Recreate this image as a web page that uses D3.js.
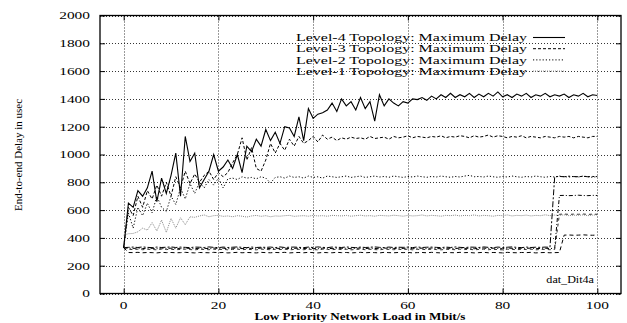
<!DOCTYPE html>
<html>
<head>
<meta charset="utf-8">
<script src="https://cdn.jsdelivr.net/npm/d3@7"></script>
<style>
  body { margin: 0; background: #fff; }
  svg { display: block; }
  text { font-family: "Liberation Serif", "Times New Roman", serif; fill: #000; }
</style>
</head>
<body>
<svg id="chart" width="627" height="323"></svg>
<script>
// Offered low-priority load (Mbit/s)
const loads = d3.range(0, 101, 1);

// Maximum end-to-end delay per topology depth (usec)
const level4Max = [330,650,620,740,700,760,880,660,830,720,850,1010,700,1130,950,1010,760,820,880,1000,
  880,910,960,900,1000,870,1060,1020,1110,1060,1180,1100,1160,1080,1200,1190,1130,1270,1100,1330,
  1260,1290,1300,1320,1370,1310,1400,1350,1380,1320,1410,1330,1380,1240,1430,1350,1400,1370,1350,1380,
  1370,1400,1395,1410,1390,1420,1400,1430,1410,1440,1410,1430,1415,1440,1410,1435,1415,1440,1420,1450,
  1415,1430,1410,1435,1420,1440,1410,1430,1420,1440,1415,1430,1420,1435,1410,1430,1420,1440,1415,1430,1425];
const level3Max = [330,620,560,700,620,740,680,780,700,800,700,840,760,880,790,860,800,850,880,820,
  870,840,870,940,1000,1120,960,1050,900,880,960,1080,1010,1080,1030,1110,1060,1130,1080,1100,
  1130,1090,1140,1110,1125,1100,1120,1110,1125,1115,1120,1110,1130,1115,1120,1125,1110,1130,1120,1125,
  1135,1120,1130,1125,1120,1130,1125,1135,1120,1130,1125,1135,1130,1120,1135,1125,1130,1140,1125,1135,
  1130,1120,1130,1125,1135,1120,1130,1125,1120,1130,1125,1120,1130,1125,1130,1120,1130,1125,1120,1130,1130];
const level2Max = [330,580,470,620,560,650,580,700,620,590,700,640,760,680,790,720,800,760,820,780,
  830,760,825,830,820,840,830,835,825,840,830,795,835,840,830,845,835,840,830,845,
  835,840,830,845,840,835,840,845,835,840,845,835,840,845,838,842,836,845,840,835,
  842,838,845,840,836,842,838,845,840,836,842,838,845,850,840,842,838,845,840,836,
  842,838,845,840,836,842,838,845,840,836,842,838,845,840,838,842,838,845,840,836,842];
const level1Max = [420,430,432,444,470,456,510,450,528,440,540,470,545,495,552,548,558,565,552,560,
  562,555,558,552,560,556,550,558,562,555,560,552,558,556,560,562,555,558,560,556,
  562,558,560,556,562,560,558,562,556,560,563,558,560,556,562,560,558,563,560,556,
  562,558,560,565,558,562,560,556,562,560,564,558,562,560,565,558,562,560,556,562,
  560,565,558,562,560,564,558,562,560,566,560,564,562,566,560,564,562,566,560,564,566];

// Delay of the background flows per topology depth (usec)
const flowA = [330,332,334,331,335,332,330,334,331,333,335,331,334,332,330,334,333,331,335,332,
  330,334,331,333,335,332,330,334,331,333,332,334,330,335,331,333,334,332,330,334,
  331,335,332,330,334,333,331,335,332,330,334,331,333,335,332,330,334,331,333,332,
  334,330,335,331,333,334,332,330,334,331,335,332,330,334,333,331,335,332,330,334,
  331,333,335,332,330,334,331,333,332,334,332,840,842,840,844,841,840,843,840,842,841];
const flowB = [330,326,324,327,323,326,325,322,327,324,326,323,325,327,324,322,326,325,323,327,
  324,326,322,325,327,323,326,324,322,327,325,323,326,324,327,322,325,326,323,327,
  324,322,326,325,323,327,324,326,322,325,327,323,326,324,322,327,325,323,326,324,
  327,322,325,326,323,327,324,322,326,325,323,327,324,326,322,325,327,323,326,324,
  322,327,325,323,326,324,327,322,325,326,323,326,705,706,704,705,707,705,704,706,705];
const flowC = [330,318,316,319,315,318,317,314,319,316,318,315,317,319,316,314,318,317,315,319,
  316,318,314,317,319,315,318,316,314,319,317,315,318,316,319,314,317,318,315,319,
  316,314,318,317,315,319,316,318,314,317,319,315,318,316,314,319,317,315,318,316,
  319,314,317,318,315,319,316,314,318,317,315,319,316,318,314,317,319,315,318,316,
  314,319,317,315,318,316,319,314,317,318,315,317,570,572,569,571,570,572,569,571,570];
const flowD = [330,295,294,296,293,295,294,292,296,294,295,293,294,296,294,292,295,294,293,296,
  294,295,292,294,296,293,295,294,292,296,294,293,295,294,296,292,294,295,293,296,
  294,292,295,294,293,296,294,295,292,294,296,293,295,294,292,296,294,293,295,294,
  296,292,294,295,293,296,294,292,295,294,293,296,294,295,292,294,296,293,295,294,
  292,296,294,293,295,294,296,292,294,295,293,294,295,420,421,419,420,422,420,419,421];

const xTicks = [0, 20, 40, 60, 80, 100];
const yTicks = [0, 200, 400, 600, 800, 1000, 1200, 1400, 1600, 1800, 2000];
const legendLabels = [
  "Level-4 Topology: Maximum Delay",
  "Level-3 Topology: Maximum Delay",
  "Level-2 Topology: Maximum Delay",
  "Level-1 Topology: Maximum Delay"
];
const xTitle = "Low Priority Network Load in Mbit/s";
const yTitle = "End-to-end Delay in usec";
const dataTag = "dat_Dit4a";

const series = [
  { values: level4Max, color: "#000", width: 1.1, dash: null, legend: 0 },
  { values: level3Max, color: "#000", width: 1, dash: "3,2", legend: 1 },
  { values: level2Max, color: "#000", width: 1, dash: "1.2,2", legend: 2 },
  { values: level1Max, color: "#888", width: 1, dash: "1,1", legend: 3 },
  { values: flowA, color: "#000", width: 1, dash: "6,2,2,2" },
  { values: flowB, color: "#000", width: 1, dash: "4,2,1,2" },
  { values: flowC, color: "#333", width: 1, dash: "3,3" },
  { values: flowD, color: "#000", width: 1, dash: "4,3" }
];

const svg = d3.select("#chart");
const plot = { left: 100, right: 621, top: 15.5, bottom: 293.5 };

const x = d3.scaleLinear().domain([-5, 105]).range([plot.left, plot.right]);
const y = d3.scaleLinear().domain([0, 2000]).range([plot.bottom, plot.top]);

// text drawn with a horizontal stretch
function label(g, px, py, str, anchor, size, sx) {
  return g.append("text")
    .attr("transform", `translate(${px},${py}) scale(${sx},1)`)
    .attr("text-anchor", anchor)
    .style("font-size", size + "px")
    .text(str);
}

// dotted grid
const grid = svg.append("g").attr("stroke", "#000").attr("stroke-width", 0.8)
  .attr("stroke-dasharray", "1,2").attr("fill", "none");
grid.selectAll("line.h").data(yTicks).join("line").attr("class", "h")
  .attr("x1", plot.left).attr("x2", plot.right)
  .attr("y1", d => Math.round(y(d)) + 0.5).attr("y2", d => Math.round(y(d)) + 0.5);
grid.selectAll("line.v").data(xTicks).join("line").attr("class", "v")
  .attr("y1", plot.top).attr("y2", plot.bottom)
  .attr("x1", d => Math.round(x(d)) + 0.5).attr("x2", d => Math.round(x(d)) + 0.5);

// inward tick marks on all four sides
const tickLen = 5;
const axes = svg.append("g");
axes.append("g").attr("transform", `translate(${plot.left},0)`)
  .call(d3.axisRight(y).tickValues(yTicks).tickSize(tickLen).tickFormat(""));
axes.append("g").attr("transform", `translate(${plot.right},0)`)
  .call(d3.axisLeft(y).tickValues(yTicks).tickSize(tickLen).tickFormat(""));
axes.append("g").attr("transform", `translate(0,${plot.bottom})`)
  .call(d3.axisTop(x).tickValues(xTicks).tickSize(tickLen).tickFormat(""));
axes.append("g").attr("transform", `translate(0,${plot.top})`)
  .call(d3.axisBottom(x).tickValues(xTicks).tickSize(tickLen).tickFormat(""));
axes.selectAll(".domain").remove();
axes.selectAll(".tick line").attr("stroke", "#000").attr("stroke-width", 1);

// series
const line = d3.line().x((d, i) => x(loads[i])).y(d => y(d));
const lines = svg.append("g").attr("fill", "none");
series.forEach(s => {
  lines.append("path")
    .attr("d", line(s.values))
    .attr("stroke", s.color)
    .attr("stroke-width", s.width)
    .attr("stroke-dasharray", s.dash)
    .attr("stroke-linejoin", "miter");
});

// frame
svg.append("rect")
  .attr("x", plot.left).attr("y", plot.top)
  .attr("width", plot.right - plot.left).attr("height", plot.bottom - plot.top)
  .attr("fill", "none").attr("stroke", "#000").attr("stroke-width", 1.3);

// tick labels
const labels = svg.append("g");
yTicks.forEach(t => label(labels, 90, y(t) + 3.8, String(t), "end", 11, 1.4));
xTicks.forEach(t => label(labels, x(t), 309, String(t), "middle", 11, 1.4));

// axis titles
label(svg, 360, 320, xTitle, "middle", 10.5, 1.25).style("font-weight", "bold");
svg.append("text")
  .attr("transform", `translate(22,155) rotate(-90)`)
  .attr("text-anchor", "middle")
  .style("font-size", "11px")
  .text(yTitle);

// data set tag
label(svg, 594, 283, dataTag, "end", 11, 1.1);

// legend
const legend = svg.append("g");
series.filter(s => s.legend !== undefined).forEach(s => {
  const cy = 37.5 + s.legend * 11.2;
  label(legend, 527, cy + 3.7, legendLabels[s.legend], "end", 11, 1.45);
  legend.append("line")
    .attr("x1", 533).attr("x2", 565).attr("y1", cy).attr("y2", cy)
    .attr("stroke", s.color).attr("stroke-width", s.width)
    .attr("stroke-dasharray", s.dash);
});
</script>
</body>
</html>
